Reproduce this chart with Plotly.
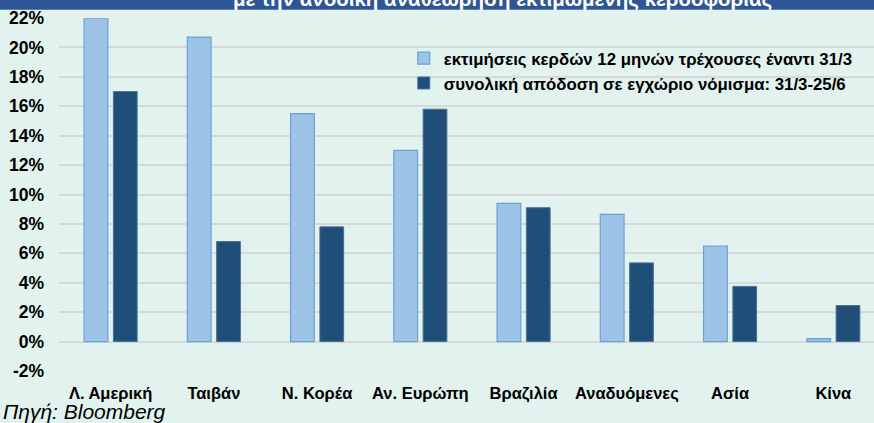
import plotly.graph_objects as go

categories = ["Λ. Αμερική", "Ταιβάν", "Ν. Κορέα", "Αν. Ευρώπη", "Βραζιλία", "Αναδυόμενες", "Ασία", "Κίνα"]
earnings_est = [22.0, 20.7, 15.5, 13.0, 9.4, 8.65, 6.5, 0.2]
total_return = [17.0, 6.8, 7.8, 15.8, 9.1, 5.35, 3.75, 2.45]
series_names = ["εκτιμήσεις κερδών 12 μηνών τρέχουσες έναντι 31/3",
                "συνολική απόδοση σε εγχώριο νόμισμα: 31/3-25/6"]
y_ticks = [-2, 0, 2, 4, 6, 8, 10, 12, 14, 16, 18, 20, 22]
title_text = "με την ανοδική αναθεώρηση εκτιμώμενης κερδοφορίας"
source_text = "Πηγή: Bloomberg"

W, H = 874, 423
L, R, T, B = 59.4, 0, 18.3, 52.3
pw, ph = W - L - R, H - T - B

def px_x(x):
    return (x - L) / pw

def px_y(y):
    return 1 - (y - T) / ph

font = "Liberation Sans, Arial, sans-serif"
bg = "#e2f2ee"

fig = go.Figure()
fig.add_trace(go.Bar(
    x=categories, y=earnings_est, name=series_names[0],
    marker=dict(color="#9dc3e6", line=dict(color="#6aa2d8", width=1.2)),
    legendgroup="a",
))
fig.add_trace(go.Bar(
    x=categories, y=total_return, name=series_names[1],
    marker=dict(color="#1f4e79", line=dict(color="#4d7196", width=1)),
    legendgroup="b",
))

fig.update_layout(
    width=W, height=H,
    margin=dict(l=L, r=R, t=T, b=B, pad=0),
    paper_bgcolor=bg, plot_bgcolor=bg,
    barmode="group", bargap=0.432, bargroupgap=0.19,
    font=dict(family=font, color="#000000"),
    showlegend=True,
    legend=dict(
        x=px_x(404), y=px_y(41), xanchor="left", yanchor="top",
        bgcolor="rgba(0,0,0,0)", font=dict(size=16.8, family=font, color="#000", weight="bold"),
        itemwidth=30, tracegroupgap=1, traceorder="normal",
    ),
    xaxis=dict(
        range=[-0.5, 7.394], showgrid=False, zeroline=False, showline=False,
        ticks="", tickfont=dict(size=16.5, family=font, weight="bold"),
        ticklabelstandoff=10,
    ),
    yaxis=dict(
        range=[-2, 22], tickvals=y_ticks, ticktext=[f"<b>{v}%</b>" for v in y_ticks],
        showgrid=True, gridcolor="#d6d9d8", gridwidth=1.6,
        zeroline=True, zerolinecolor="#d6d9d8", zerolinewidth=1.6,
        showline=False, ticks="",
        tickfont=dict(size=17.5, family=font, weight="bold"),
        ticklabelstandoff=14,
    ),
    shapes=[dict(
        type="rect", xref="paper", yref="paper",
        x0=px_x(0), x1=px_x(W), y0=px_y(10), y1=px_y(-20),
        fillcolor="#2e5596", line=dict(width=0), layer="above",
    )],
    annotations=[
        dict(text=f"<b>{title_text}</b>", xref="paper", yref="paper",
             x=px_x(503), y=px_y(-1), xanchor="center", yanchor="middle",
             showarrow=False, font=dict(size=20.5, family=font, color="#ffffff")),
        dict(text=f"<i>{source_text}</i>", xref="paper", yref="paper",
             x=px_x(1), y=px_y(411), xanchor="left", yanchor="middle",
             showarrow=False, font=dict(size=21, family=font, color="#000")),
    ],
)

fig.write_html("out.html", config={"displayModeBar": False},
               post_script="document.body.style.margin='0';document.body.style.overflow='hidden';")
